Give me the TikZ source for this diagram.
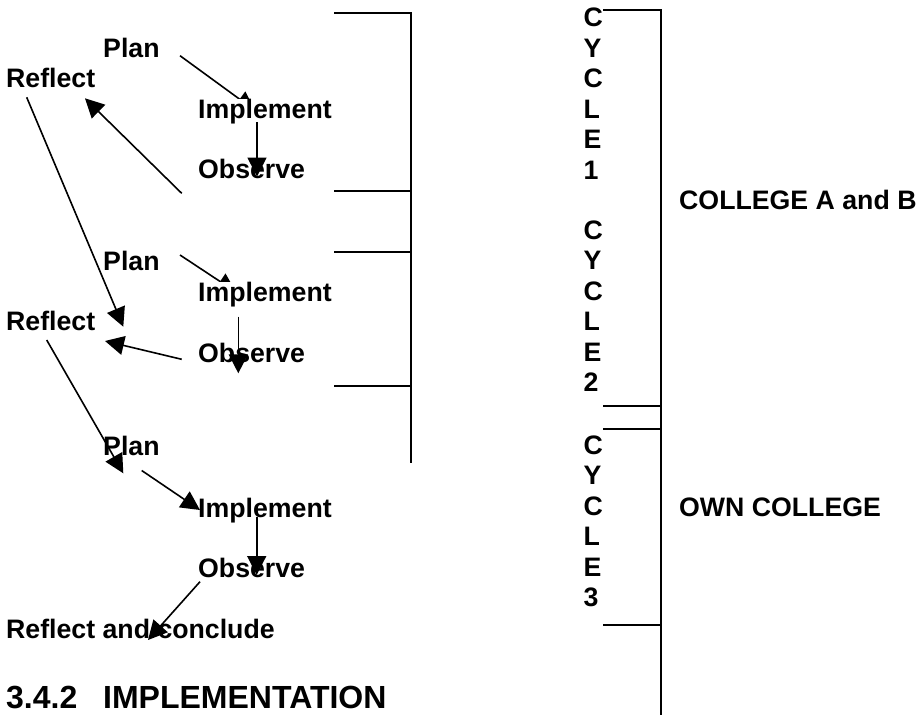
\documentclass[tikz,border=0pt]{standalone}
\usepackage{fontspec}
\setmainfont{Liberation Sans}
\usetikzlibrary{arrows.meta}
\pgfdeclarelayer{back}
\pgfsetlayers{back,main}

\begin{document}
\begin{tikzpicture}[x=1pt, y=-1pt,
    arr/.style={line width=1.6pt, -{Triangle[length=19pt, width=19pt]}},
    bracket/.style={line width=1.8pt}]
  \useasboundingbox (0,0) rectangle (921,715);

  {\tikzstyle{every node}=[anchor=base west, inner sep=0pt, fill=white,
      font=\bfseries\fontsize{26.7}{30.5}\selectfont]
    % cycle 1
    \node (p1) at (103, 57.3) {Plan};
    \node (r1) at (6, 87.3) {Reflect};
    \node (i1) at (198, 118) {Implement};
    \node (o1) at (198, 178) {Observe};
    % cycle 2
    \node (p2) at (103, 270.7) {Plan};
    \node (i2) at (198, 301.7) {Implement};
    \node (r2) at (6, 330.7) {Reflect};
    \node (o2) at (198, 362.7) {Observe};
    % cycle 3
    \node (p3) at (103, 455) {Plan};
    \node (i3) at (198, 517.3) {Implement};
    \node (o3) at (198, 577.3) {Observe};
    \node (rc) at (6, 638.3) {Reflect and conclude};

    \foreach \ch [count=\k from 0] in {C, Y, C, L, E, 1}
    {
      \node (cya\k) at (583.5, 26.7+30.5*\k) {\ch};
    }
    \foreach \ch [count=\k from 0] in {C, Y, C, L, E, 2}
    {
      \node (cyb\k) at (583.5, 239.3+30.5*\k) {\ch};
    }
    \foreach \ch [count=\k from 0] in {C, Y, C, L, E, 3}
    {
      \node (cyc\k) at (583.5, 454+30.5*\k) {\ch};
    }

    \node (collab) at (679, 209.3) {COLLEGE A and B};
    \node (own) at (679, 516) {OWN COLLEGE};

    \node[font=\bfseries\fontsize{32}{36}\selectfont] (head) at (6, 708.3)
      {\makebox[97pt][l]{3.4.2}IMPLEMENTATION};
  }

  \begin{pgfonlayer}{back}
    \draw[arr] ([shift={(77,-1.6)}]p1.base west) -- ([shift={(57,-7.6)}]i1.base west);
    \draw[arr] ([shift={(77,-15.7)}]p2.base west) -- ([shift={(38,-9.7)}]i2.base west);
  \end{pgfonlayer}

  \draw[arr] ([shift={(59,4)}]i1.base west) -- ([shift={(59,-1.5)}]o1.base west);
  \draw[arr] ([shift={(-16.3,15.3)}]o1.base west) -- ([shift={(79,11)}]r1.base west);
  \draw[arr] ([shift={(20.7,10)}]r1.base west) -- ([shift={(117.3,-4)}]r2.base west);

  \draw[arr] ([shift={(40.3,15)}]i2.base west) -- ([shift={(40.3,10.6)}]o2.base west);
  \draw[arr] ([shift={(-16.3,-3.4)}]o2.base west) -- ([shift={(99,10.3)}]r2.base west);
  \draw[arr] ([shift={(40.7,9.3)}]r2.base west) -- ([shift={(20.3,18.3)}]p3.base west);

  \draw[arr] ([shift={(38.7,15.5)}]p3.base west) -- ([shift={(2,-7.3)}]i3.base west);
  \draw[arr] ([shift={(58.7,-0.3)}]i3.base west) -- ([shift={(58.7,-2.3)}]o3.base west);
  \draw[arr] ([shift={(2,4.4)}]o3.base west) -- ([shift={(142,1.7)}]rc.base west);

  % brackets
  \draw[bracket] (334,13.3) -- (411,13.3) -- (411,463.3);
  \draw[bracket]
    (334,190.7) -- (411,190.7)
    (334,251.7) -- (411,251.7)
    (334,386) -- (411,386);

  \draw[bracket] (603,10) -- (661,10) -- (661,715);
  \draw[bracket]
    (603,405.7) -- (661,405.7)
    (603,429) -- (661,429)
    (603,625) -- (661,625);
\end{tikzpicture}
\end{document}
